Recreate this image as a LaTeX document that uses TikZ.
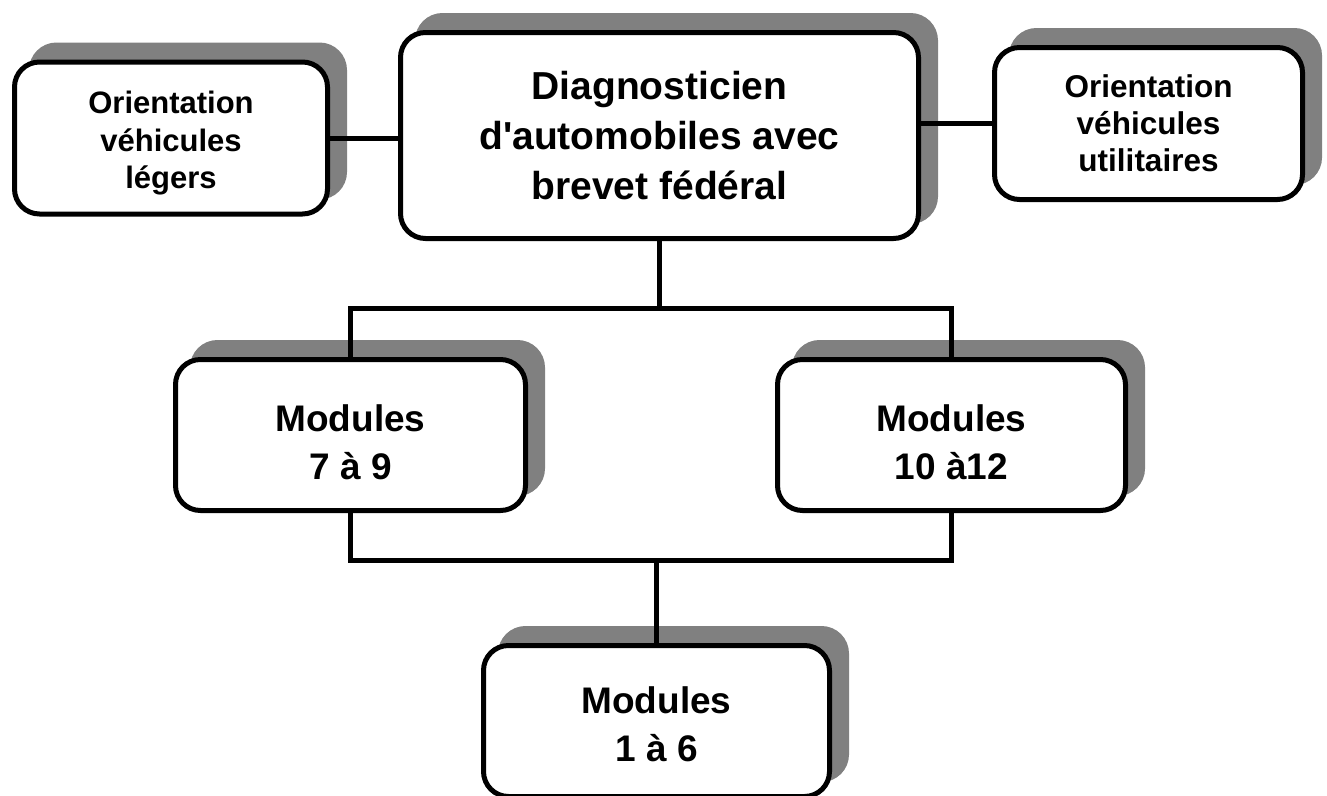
\documentclass[tikz,border=0pt]{standalone}
\usepackage{fontspec}
\setmainfont{Liberation Sans}
\usetikzlibrary{shadows}
\definecolor{shadowgray}{HTML}{808080}
\newcommand{\topstrut}[1]{\rule{0pt}{#1}}
\begin{document}
\begin{tikzpicture}[x=1pt,y=-1pt,
  box/.style={draw=black, line width=5pt, rounded corners=25pt, fill=white,
    align=center, inner sep=0pt, font=\bfseries,
    general shadow={fill=shadowgray, draw=shadowgray, line width=5pt,
      shadow xshift=17pt, shadow yshift=17pt}},
  link/.style={draw=black, line width=5pt}
]
\useasboundingbox (0,0) rectangle (1327,795);
\node[box, minimum width=313pt, minimum height=152pt,
  font=\bfseries\fontsize{31}{37.5}\selectfont] (L) at (171,138)
  {\topstrut{33pt}Orientation\\véhicules\\légers};
\node[box, minimum width=518pt, minimum height=206pt,
  font=\bfseries\fontsize{39}{50}\selectfont] (C) at (659.5,135.5)
  {Diagnosticien\\d\textquotesingle automobiles avec\\brevet fédéral};
\node[box, minimum width=308pt, minimum height=152pt,
  font=\bfseries\fontsize{31.5}{37}\selectfont] (R) at (1148.5,123.5)
  {Orientation\\véhicules\\utilitaires};
\node[box, minimum width=350pt, minimum height=151pt,
  font=\bfseries\fontsize{37}{48}\selectfont] (M79) at (350.5,435)
  {\topstrut{40.5pt}Modules\\7 à 9};
\node[box, minimum width=348pt, minimum height=151pt,
  font=\bfseries\fontsize{37}{48}\selectfont] (M1012) at (951.5,435)
  {\topstrut{40.5pt}Modules\\10 à12};
\node[box, minimum width=346pt, minimum height=151pt,
  font=\bfseries\fontsize{37}{48}\selectfont] (M16) at (656.5,721)
  {\topstrut{32.5pt}Modules\\1 à 6};
\coordinate (j1) at (659.5,308);
\coordinate (j2) at (656.5,560);
\draw[link] (L.east) -- (L.east -| C.west);
\draw[link] (R.west) -- (R.west -| C.east);
\draw[link] (C.south) -- (C.south |- j1);
\draw[link] (M79.north) |- (j1) -| (M1012.north);
\draw[link] (M79.south) |- (j2) -| (M1012.south);
\draw[link] (j2) -- (M16.north);
\end{tikzpicture}
\end{document}
